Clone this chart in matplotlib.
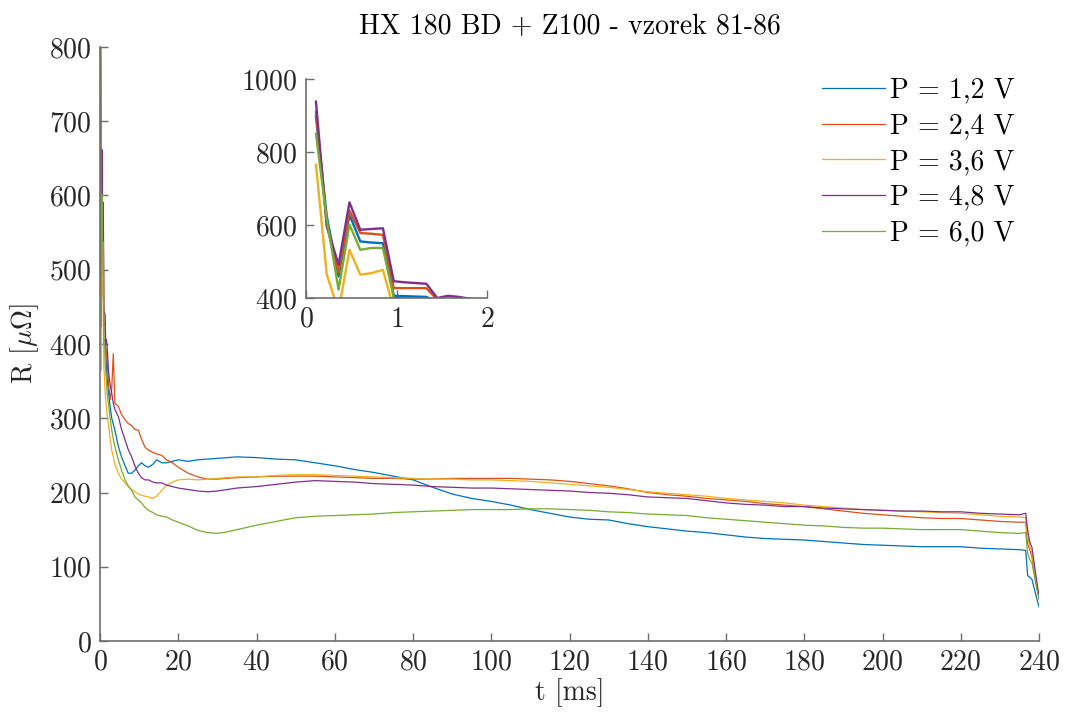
import numpy as np
import matplotlib
matplotlib.use("Agg")
import matplotlib.pyplot as plt

plt.rcParams['font.family'] = 'serif'
plt.rcParams['font.serif'] = ['cmr10']
plt.rcParams['mathtext.fontset'] = 'cm'
plt.rcParams['axes.formatter.use_mathtext'] = True
plt.rcParams['axes.unicode_minus'] = False

# time axis [ms]
t_ms = [0.11, 0.23, 0.36, 0.48, 0.60, 0.72, 0.85, 0.97, 1.09, 1.21, 1.33, 1.45, 1.57, 1.69, 1.81,
        2.2, 2.6, 3.0, 3.4, 3.8, 4.7, 5.5, 6.4, 7.2, 8.1, 8.9, 9.8, 10.6, 11.5, 12.4, 13.5, 14.5,
        15.8, 17, 18.5, 20, 22.5, 25, 27.5, 30, 32.5, 35,
        40, 45, 50, 55, 60, 65, 70, 75, 80, 85, 90, 95, 100, 105, 110, 115, 120, 125, 130, 135,
        140, 145, 150, 155, 160, 165, 170, 175, 180, 185, 190, 195, 200, 205, 210, 215, 220, 225,
        230, 235, 236.6, 237.1, 237.6, 238.2, 239.0, 240.0]

# R [uOhm]
r_12 = [897, 623, 459, 628, 555, 552, 550, 406, 405, 404, 403, 390, 380, 368, 355,
        334, 315, 300, 292, 284, 262, 248, 236, 226, 226, 230, 236, 240, 236, 234, 238, 244,
        240, 240, 242, 244, 242, 244, 245, 246, 247, 248,
        247, 245, 244, 240, 236, 231, 227, 222, 217, 207, 198, 192, 188, 183, 177, 172, 167, 164, 163, 158,
        154, 151, 148, 146, 143, 140, 138, 137, 136, 134, 132, 130, 129, 128, 127, 127, 127, 125,
        124, 123, 122, 88, 86, 83, 66, 46]
r_24 = [910, 600, 470, 640, 578, 576, 573, 427, 427, 427, 427, 395, 390, 385, 378,
        345, 325, 340, 387, 320, 316, 305, 298, 293, 290, 285, 284, 272, 261, 257, 254, 252,
        250, 244, 240, 234, 226, 221, 218, 218, 219, 220,
        221, 222, 222, 222, 221, 220, 219, 219, 218, 218, 219, 219, 219, 219, 218, 217, 215, 212, 209, 205,
        200, 197, 195, 192, 190, 188, 185, 183, 181, 178, 175, 172, 170, 168, 166, 165, 165, 163,
        161, 160, 160, 130, 124, 113, 86, 58]
r_36 = [765, 464, 365, 532, 464, 468, 477, 370, 360, 345, 335, 325, 318, 311, 305,
        290, 272, 257, 248, 238, 226, 218, 213, 208, 204, 201, 198, 196, 195, 194, 192, 195,
        203, 210, 214, 217, 218, 217, 218, 219, 220, 221,
        221, 223, 224, 224, 223, 222, 221, 220, 219, 218, 218, 217, 217, 216, 215, 213, 211, 209, 207, 204,
        201, 199, 197, 195, 192, 190, 188, 186, 183, 181, 179, 177, 176, 175, 174, 173, 172, 170,
        168, 167, 166, 140, 128, 118, 90, 60]
r_48 = [938, 596, 491, 662, 587, 589, 591, 446, 443, 441, 439, 400, 406, 403, 398,
        362, 345, 334, 320, 312, 302, 285, 271, 258, 248, 236, 226, 220, 217, 217, 214, 213,
        213, 210, 208, 206, 204, 202, 201, 202, 204, 206,
        208, 211, 214, 216, 215, 214, 212, 211, 210, 208, 207, 206, 206, 205, 204, 203, 202, 200, 199, 197,
        194, 193, 192, 189, 186, 184, 183, 181, 181, 179, 178, 177, 176, 175, 175, 174, 174, 172,
        171, 170, 172, 150, 134, 126, 96, 60]
r_60 = [850, 614, 423, 601, 532, 537, 537, 400, 398, 396, 372, 365, 355, 345, 335,
        318, 300, 284, 272, 262, 244, 230, 217, 209, 203, 194, 190, 186, 180, 176, 173, 170,
        168, 167, 163, 160, 155, 149, 146, 145, 147, 150,
        156, 161, 166, 168, 169, 170, 171, 173, 174, 175, 176, 177, 177, 177, 178, 178, 177, 176, 174, 173,
        171, 170, 169, 166, 164, 162, 160, 158, 156, 155, 153, 152, 152, 151, 150, 150, 150, 148,
        146, 145, 146, 118, 110, 105, 82, 56]

labels = ['P = 1,2 V', 'P = 2,4 V', 'P = 3,6 V', 'P = 4,8 V', 'P = 6,0 V']
colors = ['#0072BD', '#D95319', '#EDB120', '#7E2F8E', '#77AC30']
series = [r_12, r_24, r_36, r_48, r_60]

axcol = '#6e6e6e'
txtcol = '#262626'
fs = 20

def style_axes(ax):
    for s in ['top', 'right']:
        ax.spines[s].set_visible(False)
    for s in ['left', 'bottom']:
        ax.spines[s].set_color(axcol)
        ax.spines[s].set_linewidth(1.2)
    ax.tick_params(direction='in', length=6, width=1.0, color=axcol,
                   labelsize=fs, labelcolor=txtcol, pad=6)

fig = plt.figure(figsize=(10.66, 7.18), dpi=100)
ax = fig.add_axes([100/1066, 77/718, 939/1066, 594/718])
for y, c, lab in zip(series, colors, labels):
    ax.plot(t_ms, y, color=c, lw=0.9, label=lab)
ax.set_xlim(0, 240)
ax.set_ylim(0, 800)
ax.set_xticks(np.arange(0, 241, 20))
ax.set_yticks(np.arange(0, 801, 100))
style_axes(ax)
ax.set_xlabel('t [ms]', fontsize=fs, color=txtcol, labelpad=2)
ax.set_ylabel(r'R [$\mu\Omega$]', fontsize=fs, color=txtcol, labelpad=6)
ax.set_title('HX 180 BD + Z100 - vzorek 81-86', fontsize=fs, color='black', pad=9)

leg = ax.legend(loc='upper right', bbox_to_anchor=(0.995, 0.982), frameon=False,
                fontsize=fs, handlelength=2.25, handletextpad=0.2, labelspacing=0.34,
                borderaxespad=0.3)
for txt in leg.get_texts():
    txt.set_color('black')

# inset zoom on first 2 ms
axi = fig.add_axes([306/1066, 420/718, 181/1066, 219/718])
for y, c in zip(series, colors):
    axi.plot(t_ms, y, color=c, lw=1.7)
axi.set_xlim(0, 2)
axi.set_ylim(400, 1000)
axi.set_xticks([0, 1, 2])
axi.set_yticks([400, 600, 800, 1000])
style_axes(axi)

fig.savefig('out.png', dpi=100)
